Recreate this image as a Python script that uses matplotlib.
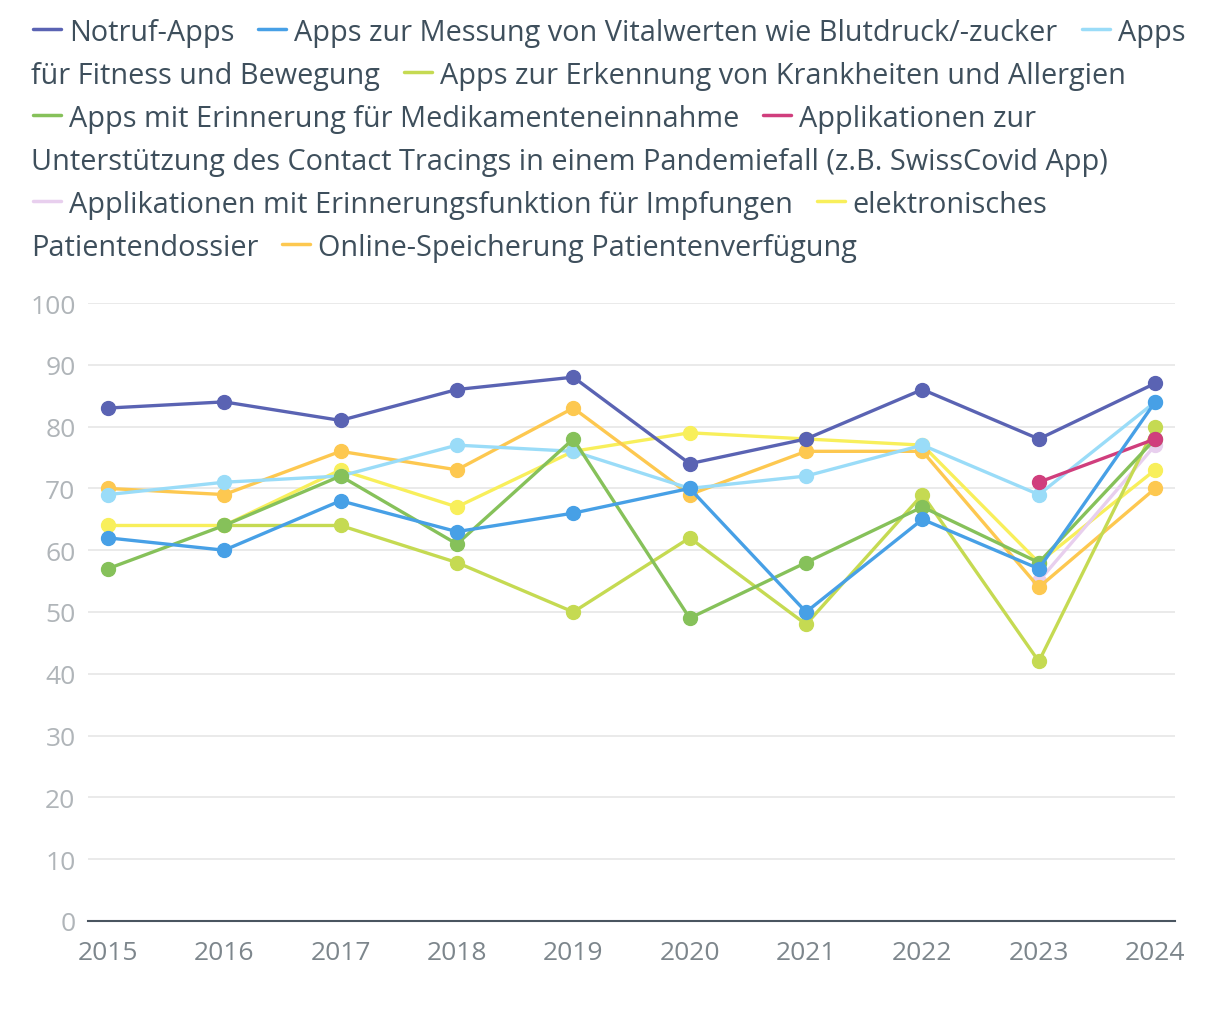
import matplotlib
matplotlib.use("Agg")
import matplotlib.pyplot as plt
from matplotlib.lines import Line2D

plt.rcParams['font.family'] = ['Open Sans', 'DejaVu Sans']

years = [2015, 2016, 2017, 2018, 2019, 2020, 2021, 2022, 2023, 2024]

notruf = [83, 84, 81, 86, 88, 74, 78, 86, 78, 87]
vitalwerte = [62, 60, 68, 63, 66, 70, 50, 65, 57, 84]
fitness = [69, 71, 72, 77, 76, 70, 72, 77, 69, 84]
erkennung = [None, 64, 64, 58, 50, 62, 48, 69, 42, 80]
medikamente = [57, 64, 72, 61, 78, 49, 58, 67, 58, 78]
contact_tracing = [None] * 8 + [71, 78]
impfungen = [None] * 8 + [55, 77]
patientendossier = [64, 64, 73, 67, 76, 79, 78, 77, 58, 73]
patientenverfuegung = [70, 69, 76, 73, 83, 69, 76, 76, 54, 70]

series = [notruf, vitalwerte, fitness, erkennung, medikamente,
          contact_tracing, impfungen, patientendossier, patientenverfuegung]
colors = ["#5a63b3", "#47a0e6", "#9adcf8", "#c5da52", "#86c15a",
          "#d03e7d", "#e8cfee", "#f8ef5b", "#fdc850"]
# which line lies on top where points overlap
zorders = [20, 19, 18, 17, 18.5, 18.8, 14, 13, 14.5]

# legend rows as in the original: (series index, text piece, with line symbol)
legend_rows = [
    [(0, "Notruf-Apps", True),
     (1, "Apps zur Messung von Vitalwerten wie Blutdruck/-zucker", True),
     (2, "Apps", True)],
    [(2, "für Fitness und Bewegung", False),
     (3, "Apps zur Erkennung von Krankheiten und Allergien", True)],
    [(4, "Apps mit Erinnerung für Medikamenteneinnahme", True),
     (5, "Applikationen zur", True)],
    [(5, "Unterstützung des Contact Tracings in einem Pandemiefall (z.B. SwissCovid App)", False)],
    [(6, "Applikationen mit Erinnerungsfunktion für Impfungen", True),
     (7, "elektronisches", True)],
    [(7, "Patientendossier", False),
     (8, "Online-Speicherung Patientenverfügung", True)],
]

W, H = 1220, 1020
fig = plt.figure(figsize=(W / 100, H / 100), dpi=100)
ax = fig.add_axes([88 / W, 1 - 922 / H, (1175 - 88) / W, (922 - 304) / H])

for vals, c, z in zip(series, colors, zorders):
    xs = [y for y, v in zip(years, vals) if v is not None]
    ys = [v for v in vals if v is not None]
    ax.plot(xs, ys, color=c, lw=2.4, marker='o', ms=10, zorder=z)

ax.set_xlim(2014.83, 2024.17)
ax.set_ylim(0, 100)
ax.set_yticks(range(0, 101, 10))
ax.set_xticks(years)
ax.grid(axis='y', color='#e6e6e6', lw=1.2)
ax.set_axisbelow(True)
for s in ['top', 'right', 'left']:
    ax.spines[s].set_visible(False)
ax.spines['bottom'].set_color('#4a5560')
ax.spines['bottom'].set_linewidth(1.5)
ax.tick_params(axis='y', length=0, pad=9, labelsize=19, labelcolor='#b0b5b9')
ax.tick_params(axis='x', length=0, pad=14, labelsize=19, labelcolor='#7d868c')

# legend drawn as flowing text rows
fig.canvas.draw()
renderer = fig.canvas.get_renderer()
fs = 20.8
txt_color = '#3e4f5c'
y0, row_h = 30, 43

for r, items in enumerate(legend_rows):
    yy = 1 - (y0 + r * row_h) / H
    x = 31
    for j, (idx, text, sym) in enumerate(items):
        if j > 0:
            x += 22
        if sym:
            fig.add_artist(Line2D([(x + 2) / W, (x + 30) / W], [yy, yy],
                                  color=colors[idx], lw=2.5,
                                  solid_capstyle='round'))
            x += 38
        t = fig.text(x / W, yy, text, fontsize=fs, color=txt_color,
                     va='center_baseline', ha='left')
        x += t.get_window_extent(renderer).width

fig.savefig("out.png", dpi=100)
